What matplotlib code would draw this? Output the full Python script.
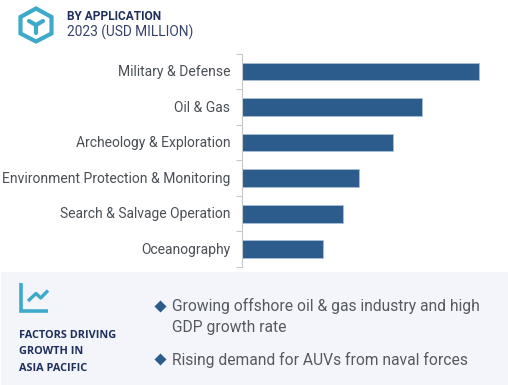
import matplotlib
matplotlib.use("Agg")
import matplotlib.pyplot as plt
from matplotlib.patches import Rectangle, Polygon
from matplotlib.transforms import ScaledTranslation

categories = ["Military & Defense", "Oil & Gas", "Archeology & Exploration",
              "Environment Protection & Monitoring", "Search & Salvage Operation", "Oceanography"]
values = [236.5, 179.5, 150.5, 117, 101, 81]
title_bold = "BY APPLICATION"
title_sub = "2023 (USD MILLION)"
factors_lines = ["FACTORS DRIVING", "GROWTH IN", "ASIA PACIFIC"]

W, H = 508, 385
plt.rcParams['font.family'] = ['Roboto', 'DejaVu Sans']
fig = plt.figure(figsize=(W/100, H/100), dpi=100, facecolor='white')

bg = fig.add_axes([0, 0, 1, 1])
bg.set_xlim(0, W); bg.set_ylim(H, 0); bg.axis('off')

TEAL = '#3fa9c9'; NAVY = '#1f2f5c'; BLUE = '#2b5c8c'; GREY = '#555a60'

# panel
bg.add_patch(Rectangle((1, 272), 507, 113, fc='#f3f5fa', ec='none'))

# hexagon icon
hexpts = [(36, 8.5), (51.5, 17), (51.5, 33.5), (36, 41.5), (20.5, 33.5), (20.5, 17)]
bg.add_patch(Polygon(hexpts, closed=True, fc='none', ec=TEAL, lw=3, joinstyle='miter'))
bg.plot([36, 36], [25, 33], color=TEAL, lw=3, solid_capstyle='round')
bg.plot([29, 36, 43], [21, 25, 21], color=TEAL, lw=3, solid_capstyle='round', solid_joinstyle='round')

# header
bg.text(67, 16, title_bold, fontsize=8.6, fontweight='bold', color=NAVY, va='center', ha='left')
bg.text(67, 32, title_sub, fontsize=9.9, color=NAVY, va='center', ha='left', alpha=0.9)

# line-chart icon
bg.plot([20.5, 20.5, 48], [283, 311, 311], color=TEAL, lw=2.6, solid_joinstyle='miter', solid_capstyle='butt')
bg.plot([28, 36, 40.7, 48], [301, 293.5, 298, 290.5], color=TEAL, lw=2.4, solid_capstyle='butt')

# factors
for y, line in zip([335, 351.5, 368.5], factors_lines):
    bg.text(19, y, line, fontsize=7.85, fontweight='bold', color=NAVY, va='center', ha='left',
            family=['Open Sans', 'DejaVu Sans'])

# bullets
for y in [306, 359]:
    bg.plot([159.5], [y], marker='D', ms=5.8, color=BLUE, mec='none')
bg.text(172, 306, "Growing offshore oil & gas industry and high", fontsize=11.25, color=GREY, va='center', ha='left')
bg.text(172, 327.5, "GDP growth rate", fontsize=11.25, color=GREY, va='center', ha='left')
bg.text(172, 359.5, "Rising demand for AUVs from naval forces", fontsize=11.25, color=GREY, va='center', ha='left')

# bars
ax = fig.add_axes([242.3/W, 1 - 267/H, (W-242.3)/W, (267-53.7)/H], facecolor='none')
ypos = list(range(len(categories)))
ax.barh(ypos, values, height=0.5, color=BLUE, edgecolor='#a9c0d6', linewidth=0.6)
ax.set_ylim(len(categories) - 0.5, -0.5)
ax.set_xlim(0, W - 242.3)
ax.set_xticks([])
ax.set_yticks([i - 0.5 for i in range(len(categories) + 1)], minor=False)
ax.set_yticklabels([])
ax.tick_params(axis='y', length=4, width=0.8, color='#c8c8c8', left=True)
ax.set_yticks(ypos, labels=categories, minor=True)
ax.tick_params(axis='y', which='minor', length=0, pad=8.5, labelsize=10.0, labelcolor='#4a4f55')
offset = ScaledTranslation(0, 1/100, fig.dpi_scale_trans)
for lab in ax.get_yticklabels(minor=True):
    lab.set_transform(lab.get_transform() + offset)
for s in ['top', 'right', 'bottom']:
    ax.spines[s].set_visible(False)
ax.spines['left'].set_color('#c8c8c8')
ax.spines['left'].set_linewidth(0.8)

fig.savefig('out.png', dpi=100)
